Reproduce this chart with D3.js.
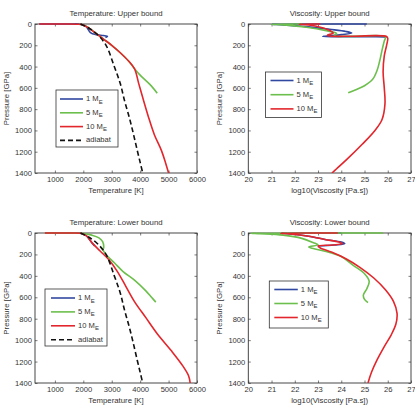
<!DOCTYPE html>
<html><head><meta charset="utf-8">
<script src="https://cdn.jsdelivr.net/npm/d3@7"></script>
<style>body{margin:0;background:#fff}svg{display:block}text{font-family:"Liberation Sans",Arial,sans-serif;fill:#333}</style>
</head><body><svg id="c" width="415" height="405"></svg>
<script>
// ---------- data ----------
const pressureTicks = [0,200,400,600,800,1000,1200,1400];
const tempTicks = [1000,2000,3000,4000,5000,6000];
const viscTicks = [20,21,22,23,24,25,26,27];
const seriesLabels = ["1 M","5 M","10 M"];
const adiabatLabel = "adiabat";
const titles = ["Temperature: Upper bound","Viscosity: Upper bound","Temperature: Lower bound","Viscosity: Lower bound"];

// [temperature K, pressure GPa]
const tempUpper1 = [[450,0],[1500,0],[1900,2],[2100,25],[2250,80],[2450,100],[2700,108],[2850,115],[2780,128]];
const tempUpper5 = [[1850,0],[2100,20],[2400,80],[2700,140],[3000,200],[3300,270],[3600,350],[3800,420],[4050,495],[4350,570],[4600,650]];
const tempUpper10 = [[450,0],[1200,0],[1800,2],[2000,10],[2200,40],[2400,80],[2700,140],[3000,200],[3300,270],[3600,350],[3800,420],[3950,560],[4100,700],[4300,880],[4500,1040],[4750,1190],[4900,1310],[5000,1400]];
const adiabat = [[1900,0],[2200,40],[2500,100],[2800,200],[3090,400],[3300,560],[3450,720],[3620,880],[3760,1030],[3900,1190],[4000,1300],[4090,1400]];

const tempLower1 = [[650,0],[1500,0],[1900,3],[2100,25],[2300,90],[2400,120]];
const tempLower5 = [[650,0],[1500,0],[2000,5],[2300,20],[2550,45],[2680,80],[2720,130],[2700,160],[2800,200],[3100,280],[3400,360],[3800,440],[4200,540],[4400,600],[4550,645]];
const tempLower10 = [[650,0],[1500,0],[1900,3],[2100,25],[2300,90],[2600,170],[2900,250],[3200,360],[3500,500],[3800,640],[4200,790],[4600,940],[5100,1100],[5500,1240],[5700,1330],[5760,1400]];

// [log10 viscosity, pressure GPa]
const viscUpper1 = [[25.1,0],[21.0,2],[21.5,8],[22.5,25],[23.5,50],[24.2,70],[24.45,85],[24.0,100],[23.2,118],[24.5,120],[25.9,121],[25.95,125]];
const viscUpper5 = [[22.3,0],[21.0,1.5],[21.5,8],[22.5,30],[23.3,60],[23.8,90],[23.7,110],[24.5,116],[25.9,120],[25.85,160],[25.75,250],[25.65,350],[25.55,430],[25.35,520],[25.0,580],[24.6,620],[24.3,645]];
const viscUpper10 = [[23.1,0],[22.2,1.5],[22.6,10],[23.1,30],[23.5,60],[23.65,85],[23.4,105],[23.5,113],[24.5,115],[25.95,117],[26.0,135],[25.95,200],[25.85,300],[25.8,450],[25.85,600],[25.88,750],[25.75,900],[25.45,1000],[24.9,1130],[24.25,1270],[23.8,1360],[23.6,1400]];

const viscLower1 = [[24.0,0],[21.4,1.5],[21.8,8],[22.6,30],[23.3,60],[24.0,85],[24.15,100],[23.7,112],[23.0,122]];
const viscLower5 = [[25.8,0],[20.1,1.5],[20.5,6],[21.5,20],[22.3,50],[22.8,90],[23.0,110],[22.6,130],[22.7,140],[23.3,170],[24.0,220],[24.5,300],[25.0,380],[25.2,450],[25.1,520],[24.95,580],[25.0,620],[25.15,650]];
const viscLower10 = [[23.85,0],[21.4,1.5],[21.8,8],[22.6,30],[23.3,60],[23.9,85],[24.05,100],[23.6,112],[23.0,122],[23.1,140],[23.6,180],[24.2,240],[24.8,320],[25.4,420],[25.9,530],[26.25,640],[26.4,750],[26.35,850],[26.15,950],[25.85,1060],[25.55,1180],[25.3,1300],[25.15,1400]];

// ---------- drawing ----------
const colors = ["#3148a0","#6cbf4c","#e2262c"];
const svg = d3.select("#c");
const FS = 7.6;

function panel(cfg, idx){
  const x = d3.scaleLinear().domain(cfg.xd).range([cfg.x0,cfg.x1]);
  const y = d3.scaleLinear().domain([0,1400]).range([cfg.y0,cfg.y1]);
  const g = svg.append("g");
  const cid = "clip"+idx;
  g.append("clipPath").attr("id",cid).append("rect")
    .attr("x",cfg.x0).attr("y",cfg.y0-1).attr("width",cfg.x1-cfg.x0).attr("height",cfg.y1-cfg.y0+1);
  const ax = g.append("g").attr("transform",`translate(0,${cfg.y1})`)
    .call(d3.axisBottom(x).tickValues(cfg.xt).tickSize(-2.5).tickPadding(4).tickFormat(d3.format("d")));
  const axT = g.append("g").attr("transform",`translate(0,${cfg.y0})`)
    .call(d3.axisTop(x).tickValues(cfg.xt).tickSize(-2.5).tickFormat(""));
  const ay = g.append("g").attr("transform",`translate(${cfg.x0},0)`)
    .call(d3.axisLeft(y).tickValues(pressureTicks).tickSize(-2.5).tickPadding(3).tickFormat(d3.format("d")));
  const ayR = g.append("g").attr("transform",`translate(${cfg.x1},0)`)
    .call(d3.axisRight(y).tickValues(pressureTicks).tickSize(-2.5).tickFormat(""));
  [ax,axT,ay,ayR].forEach(a=>{
    a.select(".domain").remove();
    a.selectAll("line").attr("stroke","#444").attr("stroke-width",0.7);
    a.selectAll("text").style("font-size",FS+"px").attr("fill","#333");
  });
  g.append("rect").attr("x",cfg.x0).attr("y",cfg.y0).attr("width",cfg.x1-cfg.x0).attr("height",cfg.y1-cfg.y0)
    .attr("fill","none").attr("stroke","#333").attr("stroke-width",0.9);
  const line = d3.line().x(d=>x(d[0])).y(d=>y(d[1])).curve(d3.curveCatmullRom.alpha(0.5));
  const lg = g.append("g").attr("clip-path",`url(#${cid})`);
  cfg.series.forEach((s,i)=>{
    lg.append("path").attr("d",line(s)).attr("fill","none").attr("stroke",colors[i]).attr("stroke-width",1.6).attr("stroke-linejoin","round");
  });
  if(cfg.adiabat){
    lg.append("path").attr("d",line(cfg.adiabat)).attr("fill","none").attr("stroke","#111").attr("stroke-width",1.6).attr("stroke-dasharray","5,3");
  }
  const cx = (cfg.x0+cfg.x1)/2, cy=(cfg.y0+cfg.y1)/2;
  g.append("text").attr("x",cx).attr("y",cfg.y0-10).attr("text-anchor","middle").attr("dominant-baseline","middle").style("font-size","7.8px").text(cfg.title);
  g.append("text").attr("x",cx).attr("y",cfg.y1+18).attr("text-anchor","middle").attr("dominant-baseline","middle").style("font-size","7.8px").text(cfg.xlabel);
  g.append("text").attr("transform",`translate(${cfg.x0-28},${cy}) rotate(-90)`).attr("text-anchor","middle").attr("dominant-baseline","middle").style("font-size","7.8px").text("Pressure [GPa]");
  const L = cfg.legend;
  g.append("rect").attr("x",L.x).attr("y",L.y).attr("width",L.w).attr("height",L.h).attr("fill","#fff").attr("stroke","#333").attr("stroke-width",0.8);
  const items = seriesLabels.map((t,i)=>({t, c:colors[i], sub:true, dash:false}));
  if(cfg.adiabat) items.push({t:adiabatLabel,c:"#111",sub:false,dash:true});
  items.forEach((it,i)=>{
    const yy = L.y + L.first + i*L.step;
    g.append("line").attr("x1",L.x+L.l0).attr("x2",L.x+L.l1).attr("y1",yy).attr("y2",yy)
      .attr("stroke",it.c).attr("stroke-width",1.6).attr("stroke-dasharray",it.dash?"5,3":null);
    const t = g.append("text").attr("x",L.x+L.l1+3).attr("y",yy).attr("dominant-baseline","middle").style("font-size",FS+"px").text(it.t);
    if(it.sub) t.append("tspan").attr("dy",2.5).style("font-size","6px").text("E");
  });
}

const tempX=[300,6000], viscX=[20,27];
panel({x0:35,x1:197,y0:24,y1:173,xd:tempX,xt:tempTicks,title:titles[0],xlabel:"Temperature [K]",
  series:[tempUpper1,tempUpper5,tempUpper10],adiabat:adiabat,
  legend:{x:56,y:90,w:62,h:57,first:9,step:13.8,l0:4,l1:27}},0);
panel({x0:248.3,x1:411,y0:24,y1:173,xd:viscX,xt:viscTicks,title:titles[1],xlabel:"log10(Viscosity [Pa.s])",
  series:[viscUpper1,viscUpper5,viscUpper10],adiabat:null,
  legend:{x:265.5,y:72,w:56,h:45.5,first:8.5,step:14.2,l0:5,l1:28}},1);
panel({x0:35,x1:197,y0:233,y1:383,xd:tempX,xt:tempTicks,title:titles[2],xlabel:"Temperature [K]",
  series:[tempLower1,tempLower5,tempLower10],adiabat:adiabat,
  legend:{x:45,y:289,w:62,h:57,first:9,step:13.9,l0:6,l1:30}},2);
panel({x0:248.3,x1:411,y0:233,y1:383,xd:viscX,xt:viscTicks,title:titles[3],xlabel:"log10(Viscosity [Pa.s])",
  series:[viscLower1,viscLower5,viscLower10],adiabat:null,
  legend:{x:269.3,y:281,w:59,h:47,first:8.5,step:14,l0:5,l1:28.5}},3);
</script></body></html>
